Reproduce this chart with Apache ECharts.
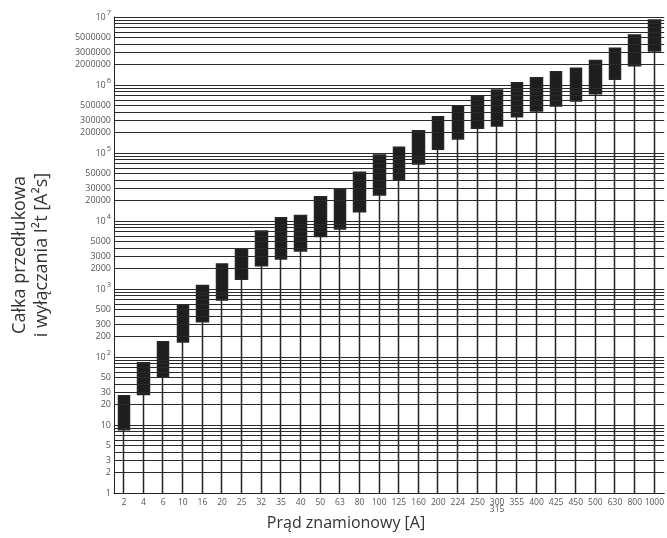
<!DOCTYPE html>
<html>
<head>
<meta charset="utf-8">
<script src="https://cdn.jsdelivr.net/npm/echarts@6/dist/echarts.min.js"></script>
<style>
html,body{margin:0;padding:0;background:#fff;}
#chart{width:667px;height:538px;}
</style>
</head>
<body>
<div id="chart"></div>
<script>
// Rated current categories [A]
var categories = ['2','4','6','10','16','20','25','32','35','40','50','63','80','100','125','160','200','224','250','300\n315','355','400','425','450','500','630','800','1000'];
// Lower end of I²t range [A²s]
var lowValues = [8.5, 28, 51, 166, 330, 690, 1390, 2200, 2760, 3620, 5900, 7600, 13700, 24100, 40100, 69000, 114000, 160000, 231000, 249000, 342000, 415000, 491000, 582000, 745000, 1210000, 1920000, 3160000];
// Upper end of I²t range [A²s]
var highValues = [27, 82, 168, 580, 1130, 2330, 3900, 7100, 11200, 12000, 22800, 29200, 52000, 93500, 121000, 213000, 342000, 491000, 673000, 844000, 1080000, 1280000, 1570000, 1760000, 2300000, 3470000, 5430000, 9040000];
// Axis range
var yMin = 1, yMax = 10000000;
// Intermediate tick labels shown on the y axis
var yMinorLabels = [2, 3, 5, 20, 30, 50, 200, 300, 500, 2000, 3000, 5000, 20000, 30000, 50000, 200000, 300000, 500000, 2000000, 3000000, 5000000];
// Minor grid multipliers within each decade
var minorMultipliers = [2, 3, 4, 5, 6, 7, 8, 9];
var decades = [1, 10, 100, 1000, 10000, 100000, 1000000];

var candleData = categories.map(function (c, i) {
  return [lowValues[i], highValues[i], yMin, highValues[i]];
});

var minorLines = [];
decades.forEach(function (d) {
  minorMultipliers.forEach(function (m) {
    var v = d * m;
    var labeled = yMinorLabels.indexOf(v) >= 0;
    minorLines.push({
      yAxis: v,
      label: labeled ? {show: true, position: 'start', formatter: String(v), color: '#555', fontSize: 9, distance: 3, fontFamily: 'Open Sans'} : {show: false}
    });
  });
});

var chart = echarts.init(document.getElementById('chart'));
chart.setOption({
  animation: false,
  backgroundColor: '#fff',
  grid: {left: 114, top: 17, width: 554, height: 476},
  xAxis: {
    type: 'category',
    data: categories,
    boundaryGap: true,
    axisLine: {show: true, lineStyle: {color: '#222', width: 1}},
    axisTick: {show: false},
    splitLine: {show: false},
    axisLabel: {color: '#555', fontSize: 8.5, margin: 6, lineHeight: 7, interval: 0, fontFamily: 'Open Sans'}
  },
  yAxis: {
    type: 'log',
    logBase: 10,
    min: yMin,
    max: yMax,
    name: 'Całka przedłukowa\ni wyłączania I²t [A²s]',
    nameLocation: 'middle',
    nameRotate: 90,
    nameGap: 61,
    nameTextStyle: {fontSize: 18, color: '#333', lineHeight: 22, fontFamily: 'Open Sans'},
    axisLine: {show: true, lineStyle: {color: '#222', width: 1}},
    axisTick: {show: false},
    splitLine: {show: true, lineStyle: {color: '#2a2a2a', width: 1.2}},
    axisLabel: {
      margin: 3,
      color: '#555',
      fontSize: 9,
      fontFamily: 'Open Sans',
      formatter: function (v) {
        var e = Math.round(Math.log10(v));
        if (e === 0) return '1';
        if (e === 1) return '10';
        return '{b|10}{s|' + e + '}';
      },
      rich: {
        b: {fontSize: 9, color: '#555', fontFamily: 'Open Sans'},
        s: {fontSize: 7.5, color: '#555', padding: [0, 0, 8, 1], fontFamily: 'Open Sans'}
      }
    }
  },
  graphic: [{
    type: 'text',
    x: 346,
    y: 523,
    style: {text: 'Prąd znamionowy [A]', fontSize: 16, fill: '#333', textAlign: 'center', textVerticalAlign: 'middle', fontFamily: 'Open Sans'}
  }],
  series: [{
    type: 'candlestick',
    data: candleData,
    barWidth: 12,
    itemStyle: {color: '#1e1e1e', color0: '#1e1e1e', borderColor: '#262626', borderColor0: '#262626', borderWidth: 1.5},
    emphasis: {disabled: true},
    markLine: {
      silent: true,
      animation: false,
      symbol: ['none', 'none'],
      lineStyle: {color: '#2a2a2a', width: 1.2, type: 'solid'},
      emphasis: {disabled: true},
      data: minorLines
    }
  }]
});
</script>
</body>
</html>
